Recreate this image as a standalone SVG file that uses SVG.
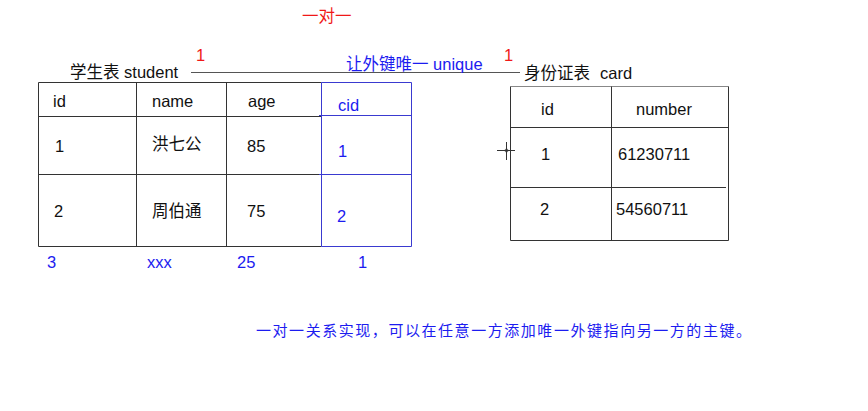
<svg xmlns="http://www.w3.org/2000/svg" width="868" height="411" viewBox="0 0 868 411">
<style>
text{font-family:"Liberation Sans","Noto Sans CJK SC",Arial,sans-serif;font-size:16.5px}
.k{fill:#111}
.b{fill:#1c1cf0}
.r{fill:#f01818}
.ln{stroke:#333;stroke-width:1;fill:none}
.bl{stroke:#3a3ad0;stroke-width:1;fill:none}
</style>
<rect width="868" height="411" fill="#fff"/>
<text class="r" x="302" y="22">一对一</text>

<g id="student">
<text class="k" x="70" y="78">学生表 student</text>
<path class="ln" d="M38.5 82.5H321.5M38.5 82.5V246.5H321.5M38.5 116.5H321.5M38.5 174.5H321.5M136.5 82.5V246.5M226.5 82.5V246.5"/>
<path class="bl" d="M321.5 82.5H411.5V246.5H321.5ZM319 115.5H411.5M319 174.5H411.5"/>
<text class="k" x="53" y="107">id</text>
<text class="k" x="152" y="107">name</text>
<text class="k" x="248" y="107">age</text>
<text class="b" x="338" y="111">cid</text>
<text class="k" x="55" y="152">1</text>
<text class="k" x="152" y="150">洪七公</text>
<text class="k" x="247" y="152">85</text>
<text class="b" x="338" y="157">1</text>
<text class="k" x="54" y="217">2</text>
<text class="k" x="152" y="217">周伯通</text>
<text class="k" x="247" y="217">75</text>
<text class="b" x="337" y="222">2</text>
<text class="b" x="47" y="268">3</text>
<text class="b" x="147" y="268">xxx</text>
<text class="b" x="237" y="268">25</text>
<text class="b" x="358" y="268">1</text>
</g>

<g id="connectors">
<line x1="191" y1="72.5" x2="520" y2="72.5" stroke="#555" stroke-width="1.2"/>
<text class="r" x="196" y="61">1</text>
<text class="b" x="346" y="70">让外键唯一 unique</text>
<text class="r" x="504" y="61">1</text>
</g>

<g id="card">
<text class="k" x="524" y="79">身份证表<tspan x="600">card</tspan></text>
<path stroke="#888" stroke-width="1" fill="none" d="M510.5 86.5H728.5"/>
<path class="ln" d="M510.5 86.5V240.5H728.5V86.5M510.5 127.5H728.5M510.5 187.5H726M611.5 86.5V240.5"/>
<text class="k" x="541" y="115">id</text>
<text class="k" x="636" y="115">number</text>
<text class="k" x="541" y="160">1</text>
<text class="k" x="618" y="160">61230711</text>
<text class="k" x="540" y="215">2</text>
<text class="k" x="616" y="215">54560711</text>
</g>

<path stroke="#333" stroke-width="1" fill="none" d="M497 150.5H515M506.5 142V160"/>
<circle cx="506.5" cy="150.5" r="1.5" fill="none" stroke="#333" stroke-width="0.8"/>

<text class="b" x="256" y="336" style="font-size:15px" textLength="495" lengthAdjust="spacing">一对一关系实现，可以在任意一方添加唯一外键指向另一方的主键。</text>
</svg>
